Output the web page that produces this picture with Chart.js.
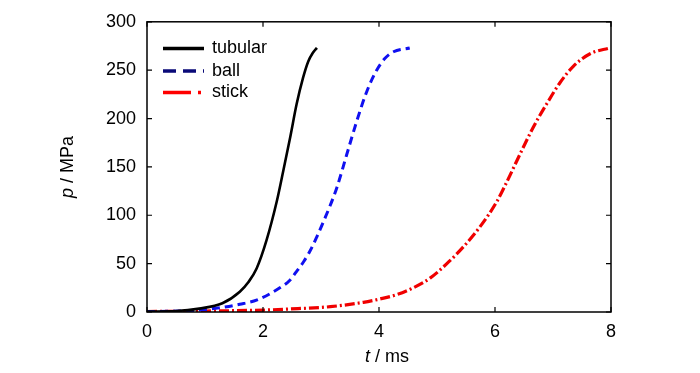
<!DOCTYPE html>
<html>
<head>
<meta charset="utf-8">
<script src="https://cdn.jsdelivr.net/npm/chart.js@4/dist/chart.umd.min.js"></script>
<style>
  html, body { margin: 0; padding: 0; background: #fff; }
  #wrap { width: 700px; height: 373px; }
</style>
</head>
<body>
<div id="wrap"><canvas id="myChart" width="700" height="373"></canvas></div>
<script>
// values
var tubularT = [0, 0.5, 0.9, 1.3, 1.6, 1.75, 1.89, 2.06, 2.24, 2.35, 2.47, 2.58, 2.69, 2.78, 2.86, 2.93];
var tubularP = [0.5, 1, 3.5, 9, 21, 31, 45, 74, 115, 146, 181, 215, 242, 259, 268, 273];
var ballT = [0, 0.6, 1.0, 1.32, 1.6, 1.9, 2.29, 2.45, 2.58, 2.7, 2.81, 2.93, 3.04, 3.27, 3.44, 3.62, 3.79, 3.96, 4.1, 4.25, 4.53];
var ballP = [0.5, 1, 2.5, 5, 8, 12.5, 25, 32, 42, 52, 63, 78, 93, 128, 162, 198, 228, 250, 262, 269, 273];
var stickT = [0, 1, 2, 2.6, 3.16, 3.73, 4.02, 4.31, 4.59, 4.88, 5.17, 5.45, 5.74, 6.03, 6.2, 6.43, 6.66, 6.89, 7.12, 7.35, 7.64, 7.98];
var stickP = [0.5, 1, 2, 3.5, 5.5, 10, 13.5, 18, 25, 35, 50, 67, 88, 114, 134, 163, 191, 215, 237, 254, 267, 273];
var xTicks = [0, 2, 4, 6, 8];
var yTicks = [0, 50, 100, 150, 200, 250, 300];

var fnt = '"Liberation Sans Narrow", "Arial Narrow", "Liberation Sans", Arial, sans-serif';

function pts(t, p) {
    return t.map(function(v, i) { return { x: v, y: p[i] }; });
}

// box, inward ticks, axis titles and the legend inside the plot
var frame = {
    id: 'frame',
    afterDraw: function(chart) {
        var c = chart.ctx, a = chart.chartArea;
        var xs = chart.scales.x, ys = chart.scales.y;
        c.save();
        c.strokeStyle = '#000';
        c.lineWidth = 1.5;
        c.strokeRect(a.left, a.top, a.right - a.left, a.bottom - a.top);
        c.lineWidth = 1.2;
        c.beginPath();
        xTicks.forEach(function(v) {
            var px = xs.getPixelForValue(v);
            c.moveTo(px, a.bottom); c.lineTo(px, a.bottom - 5);
            c.moveTo(px, a.top); c.lineTo(px, a.top + 5);
        });
        yTicks.forEach(function(v) {
            var py = ys.getPixelForValue(v);
            c.moveTo(a.left, py); c.lineTo(a.left + 5, py);
            c.moveTo(a.right, py); c.lineTo(a.right - 5, py);
        });
        c.stroke();

        // axis titles, variable in italics
        c.fillStyle = '#000';
        c.textBaseline = 'middle';
        var cx = (a.left + a.right) / 2 + 8;
        var it = 'italic 18px ' + fnt, rm = '18px ' + fnt;
        c.font = it; var w1 = c.measureText('t').width;
        c.font = rm; var w2 = c.measureText(' / ms').width;
        var sx = cx - (w1 + w2) / 2;
        c.font = it; c.textAlign = 'left'; c.fillText('t', sx, 357);
        c.font = rm; c.fillText(' / ms', sx + w1, 357);

        c.save();
        c.translate(68, (a.top + a.bottom) / 2);
        c.rotate(-Math.PI / 2);
        c.font = it; w1 = c.measureText('p').width;
        c.font = rm; w2 = c.measureText(' / MPa').width;
        sx = -(w1 + w2) / 2;
        c.font = it; c.fillText('p', sx, 0);
        c.font = rm; c.fillText(' / MPa', sx + w1, 0);
        c.restore();

        // legend
        var items = [
            { label: 'tubular', color: '#000', dash: [], y: 48.5 },
            { label: 'ball', color: '#0a0a78', dash: [13, 7], y: 71 },
            { label: 'stick', color: '#ff0000', dash: [28, 7, 3, 7], y: 92.5 }
        ];
        items.forEach(function(it2) {
            c.beginPath();
            c.strokeStyle = it2.color;
            c.lineWidth = 3.5;
            c.setLineDash(it2.dash);
            c.moveTo(a.left + 16, it2.y);
            c.lineTo(a.left + 57, it2.y);
            c.stroke();
            c.setLineDash([]);
            c.fillStyle = '#000';
            c.font = '18px ' + fnt;
            c.textAlign = 'left';
            c.fillText(it2.label, a.left + 65, it2.y);
        });
        c.restore();
    }
};

const ctx = document.getElementById('myChart');
const myChart = new Chart(ctx, {
    type: 'scatter',
    data: {
        datasets: [{
            label: 'tubular',
            data: pts(tubularT, tubularP),
            showLine: true,
            borderColor: '#000',
            borderWidth: 2.6,
            pointRadius: 0,
            cubicInterpolationMode: 'monotone'
        }, {
            label: 'ball',
            data: pts(ballT, ballP),
            showLine: true,
            borderColor: '#1010f0',
            borderWidth: 3,
            borderDash: [8, 5],
            pointRadius: 0,
            cubicInterpolationMode: 'monotone'
        }, {
            label: 'stick',
            data: pts(stickT, stickP),
            showLine: true,
            borderColor: '#f00000',
            borderWidth: 3.2,
            borderDash: [10, 3, 2, 3],
            pointRadius: 0,
            cubicInterpolationMode: 'monotone'
        }]
    },
    options: {
        responsive: false,
        animation: false,
        layout: { padding: { top: 20, right: 89, left: 0, bottom: 0 } },
        plugins: {
            legend: { display: false },
            tooltip: { enabled: false }
        },
        scales: {
            x: {
                type: 'linear',
                min: 0,
                max: 8,
                grid: { display: false, drawTicks: false },
                border: { display: false },
                afterFit: function(s) { s.height = 61; },
                afterBuildTicks: function(s) { s.ticks = xTicks.map(function(v) { return { value: v }; }); },
                ticks: { color: '#000', padding: 9, font: { family: fnt, size: 18 } }
            },
            y: {
                min: 0,
                max: 300,
                grid: { display: false, drawTicks: false },
                border: { display: false },
                afterFit: function(s) { s.width = 147; },
                afterBuildTicks: function(s) { s.ticks = yTicks.map(function(v) { return { value: v }; }); },
                ticks: { color: '#000', padding: 11, font: { family: fnt, size: 18 } }
            }
        }
    },
    plugins: [frame]
});
</script>
</body>
</html>
